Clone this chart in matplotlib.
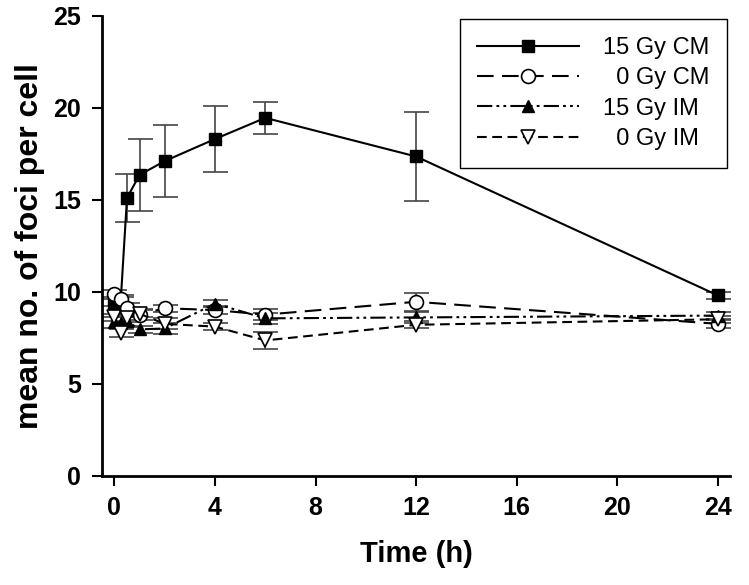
import matplotlib
matplotlib.use('Agg')
import matplotlib.pyplot as plt

plt.rcParams['font.family'] = ['Liberation Sans', 'DejaVu Sans']
plt.rcParams['lines.scale_dashes'] = False

### data
times = [0, 0.25, 0.5, 1, 2, 4, 6, 12, 24]

cm15 = [9.4, 9.5, 15.1, 16.35, 17.1, 18.3, 19.45, 17.35, 9.8]
cm15_err = [0.2, 0.2, 1.3, 1.95, 1.95, 1.8, 0.85, 2.4, 0.2]

cm0 = [9.9, 9.6, 9.1, 8.75, 9.1, 9.0, 8.75, 9.45, 8.25]
cm0_err = [0.2, 0.2, 0.3, 0.3, 0.2, 0.2, 0.3, 0.5, 0.2]

im15 = [8.35, 8.3, 8.4, 7.95, 8.0, 9.35, 8.55, 8.6, 8.7]
im15_err = [0.3, 0.3, 0.3, 0.2, 0.3, 0.2, 0.3, 0.3, 0.2]

im0 = [8.6, 7.75, 8.55, 8.8, 8.25, 8.1, 7.35, 8.2, 8.5]
im0_err = [0.2, 0.2, 0.2, 0.2, 0.3, 0.2, 0.45, 0.2, 0.2]

labels = ['15 Gy CM', '  0 Gy CM', '15 Gy IM', '  0 Gy IM']

fig = plt.figure(figsize=(7.49, 5.85), dpi=100)
ax = fig.add_axes([0.136, 0.187, 0.839, 0.786])

err_kw = dict(ecolor='#444444', elinewidth=1.2, capsize=9, capthick=1.2)

c1 = ax.errorbar(times, cm15, yerr=cm15_err, color='black', lw=1.5, ls='-',
                 marker='s', ms=8, mfc='black', mec='black', **err_kw)
c2 = ax.errorbar(times, cm0, yerr=cm0_err, color='black', lw=1.5, ls=(0, (12, 6)),
                 marker='o', ms=10, mfc='white', mec='black', mew=1.2, **err_kw)
c3 = ax.errorbar(times, im15, yerr=im15_err, color='black', lw=1.5, ls=(0, (11, 3, 2, 3, 2, 3)),
                 marker='^', ms=9, mfc='black', mec='black', **err_kw)
c4 = ax.errorbar(times, im0, yerr=im0_err, color='black', lw=1.5, ls=(0, (7, 4)),
                 marker='v', ms=10, mfc='white', mec='black', mew=1.2, **err_kw)

ax.set_xlim(-0.5, 24.5)
ax.set_ylim(0, 25)
ax.set_xticks([0, 4, 8, 12, 16, 20, 24])
ax.set_yticks([0, 5, 10, 15, 20, 25])

for s in ['top', 'right']:
    ax.spines[s].set_visible(False)
for s in ['left', 'bottom']:
    ax.spines[s].set_linewidth(2)

ax.tick_params(direction='out', length=7, width=1.5, labelsize=18, pad=8)
for t in ax.get_xticklabels() + ax.get_yticklabels():
    t.set_fontweight('bold')

ax.set_xlabel('Time (h)', fontsize=21, fontweight='bold', labelpad=14)
ax.set_ylabel('mean no. of foci per cell', fontsize=23, fontweight='bold', labelpad=6)

# legend without the error bars, just line + marker
handles = [c[0] for c in (c1, c2, c3, c4)]
leg = ax.legend(handles, labels, loc='upper right', bbox_to_anchor=(1.0, 1.0), fontsize=17,
                frameon=True, fancybox=False, edgecolor='black', framealpha=1,
                handlelength=4.3, handletextpad=1.0, labelspacing=0.35,
                borderpad=0.75, borderaxespad=0.15)
leg.get_frame().set_linewidth(1.0)

fig.savefig('out.png', dpi=100)
